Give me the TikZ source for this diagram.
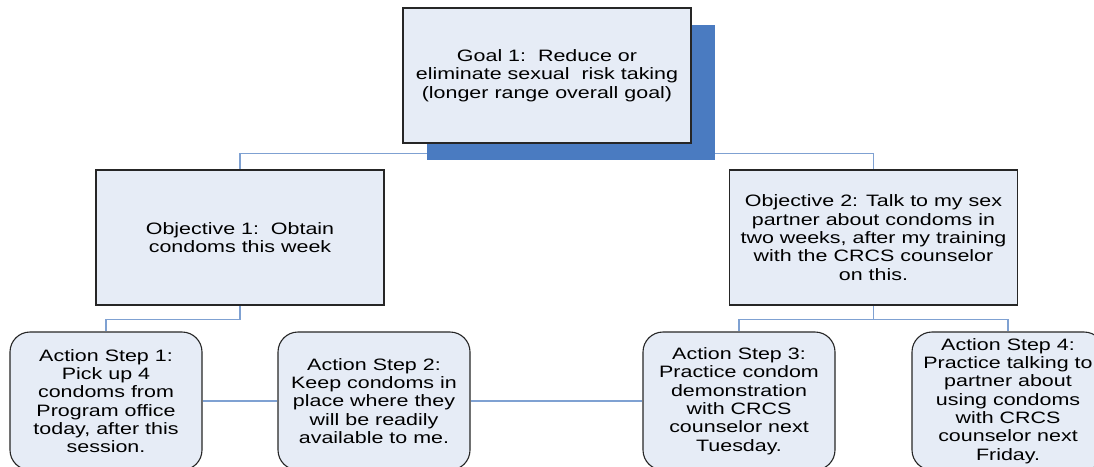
\documentclass[tikz,border=0pt]{standalone}
\usepackage{fontspec}
\setmainfont{Liberation Sans}[FakeStretch=1.3]
\usepackage{tikz}
\usetikzlibrary{shadows,backgrounds}

\definecolor{boxfill}{HTML}{E6ECF6}
\definecolor{shadowblue}{HTML}{4A7BC1}
\definecolor{linkblue}{HTML}{7FA1D2}

\begin{document}
\begin{tikzpicture}[x=1pt,y=-1pt,
    box/.style={draw=black!85,line width=1.1pt,fill=boxfill,align=center,
      font=\fontsize{16.5}{18.3}\selectfont,inner sep=0pt},
    goalbox/.style={box,minimum width=288pt,minimum height=135pt,
      general shadow={shadow xshift=24pt,shadow yshift=-17pt,fill=shadowblue}},
    objbox/.style={box,minimum width=288pt,minimum height=135pt},
    stepbox/.style={box,rounded corners=20pt,minimum width=192pt,minimum height=138pt},
    conn/.style={draw=linkblue,line width=1.3pt}]
    \useasboundingbox (0,0) rectangle (1094,466);
    \clip (0,0) rectangle (1094,466);
    % nodes
    \node[goalbox] (goal) at (547,75.5) {Goal 1:~~Reduce or\\eliminate sexual~~risk taking\\(longer range overall goal)};
    \node[objbox] (obj1) at (240,237.5) {Objective 1:~~Obtain\\condoms this week};
    \node[objbox] (obj2) at (873.5,237.5) {Objective 2: Talk to my sex\\partner about condoms in\\two weeks, after my training\\with the CRCS counselor\\on this.};
    \node[stepbox] (step1) at (106,401) {Action Step 1:\\Pick up 4\\condoms from\\Program office\\today, after this\\session.};
    \node[stepbox] (step2) at (374,401) {Action Step 2:\\Keep condoms in\\place where they\\will be readily\\available to me.};
    \node[stepbox] (step3) at (739,401) {Action Step 3:\\Practice condom\\demonstration\\with CRCS\\counselor next\\Tuesday.};
    \node[stepbox] (step4) at (1008,401) {Action Step 4:\\Practice talking to\\partner about\\using condoms\\with CRCS\\counselor next\\Friday.};
    % links, behind the boxes
    \begin{scope}[on background layer]
    \path[conn] (goal.south) -- ++(0,10) -| (obj1.north);
    \path[conn] (goal.south) ++(0,10) -| (obj2.north);
    \path[conn] (obj1.south) -- ++(0,14) -| (step1.north);
    \path[conn] (obj2.south) -- ++(0,14) -| (step3.north);
    \path[conn] (obj2.south) ++(0,14) -| (step4.north);
    \path[conn] (step1.east) -- (step2.west);
    \path[conn] (step2.east) -- (step3.west);
    \end{scope}
\end{tikzpicture}
\end{document}
